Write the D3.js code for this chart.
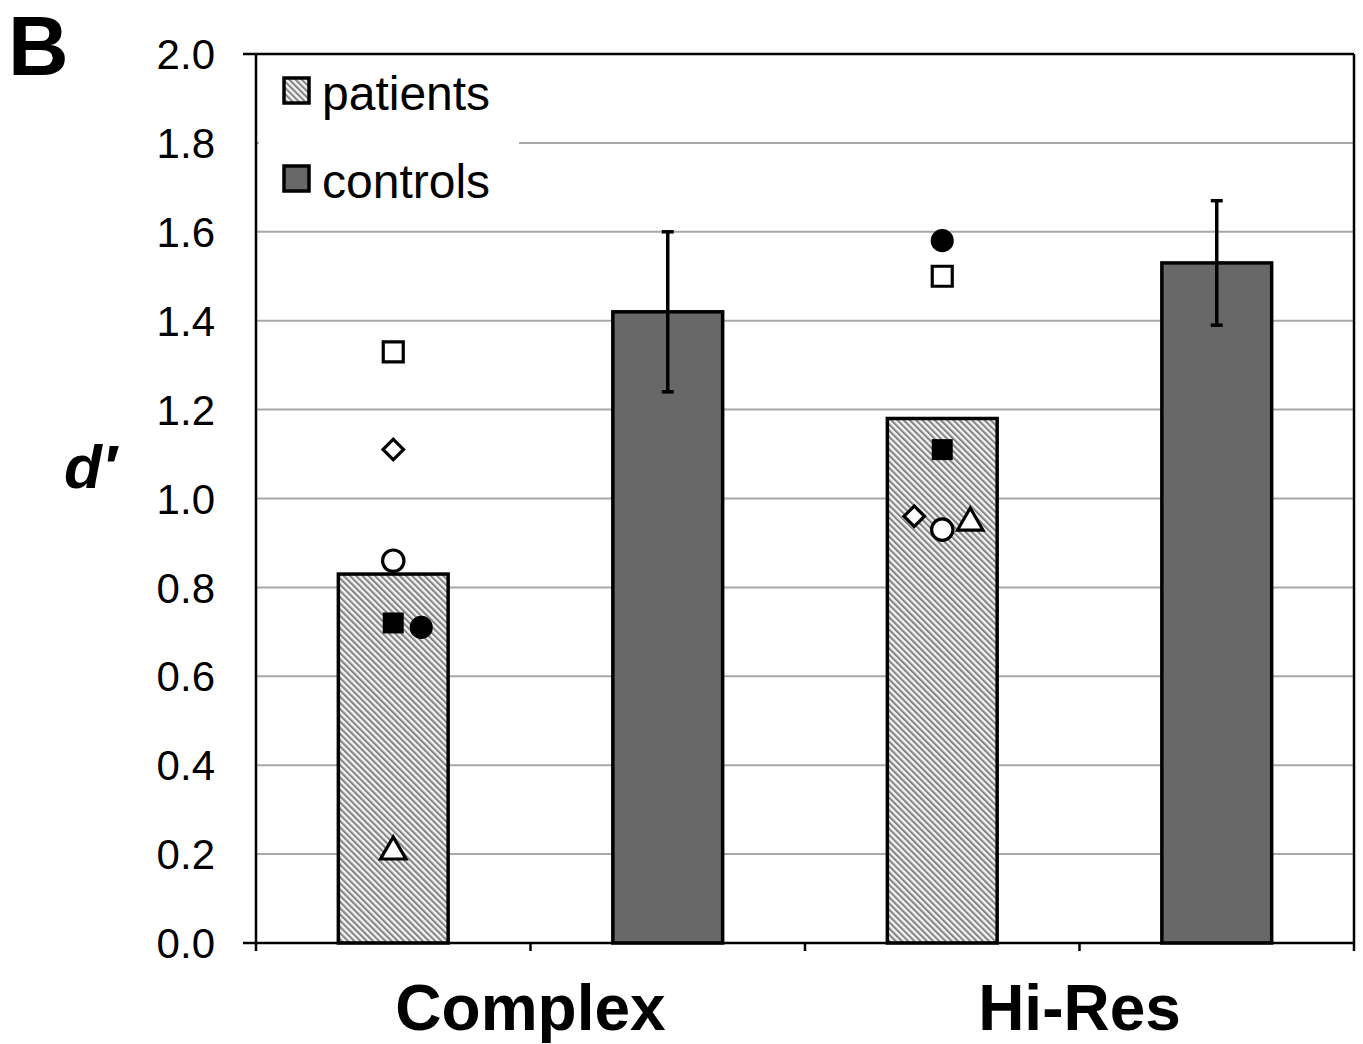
<!DOCTYPE html>
<html>
<head>
<meta charset="utf-8">
<script src="https://cdn.jsdelivr.net/npm/d3@7"></script>
<style>
  body { margin: 0; background: #fff; }
  svg { display: block; font-family: "Liberation Sans", Arial, sans-serif; }
</style>
</head>
<body>
<svg id="chart"></svg>
<script>
// data
const groups = ['Complex', 'Hi-Res'];
const series = ['patients', 'controls'];
const barMeans = [0.83, 1.42, 1.18, 1.53];          // patients/controls for each group
const errLow = [null, 1.24, null, 1.39];
const errHigh = [null, 1.60, null, 1.67];
const yTicks = [0, 0.2, 0.4, 0.6, 0.8, 1.0, 1.2, 1.4, 1.6, 1.8, 2.0];

// individual patients: shape, group, value, slot (-1,0,1 side by side)
const ptShape = ['square', 'diamond', 'circle', 'squareFill', 'circleFill', 'triangle'];
const ptComplex = [1.33, 1.11, 0.86, 0.72, 0.71, 0.21];
const ptHiRes = [1.50, 0.96, 0.93, 1.11, 1.58, 0.95];
const slotComplex = [0, 0, 0, 0, 1, 0];
const slotHiRes = [0, -1, 0, 0, 0, 1];

const W = 1363, H = 1044;
const margin = {top: 54, right: 9, bottom: 101, left: 256};
const iw = W - margin.left - margin.right;
const ih = H - margin.top - margin.bottom;

const svg = d3.select('#chart').attr('width', W).attr('height', H);

const defs = svg.append('defs');
const pat = defs.append('pattern')
  .attr('id', 'hatch')
  .attr('patternUnits', 'userSpaceOnUse')
  .attr('width', 4.4).attr('height', 4.4)
  .attr('patternTransform', 'rotate(-45)');
pat.append('rect').attr('width', 4.4).attr('height', 4.4).attr('fill', '#f4f4f4');
pat.append('rect').attr('width', 2.1).attr('height', 4.4).attr('fill', '#858585');

const g = svg.append('g').attr('transform', `translate(${margin.left},${margin.top})`);

const cats = [];
groups.forEach(gr => series.forEach(s => cats.push(gr + '|' + s)));

const x = d3.scaleBand().domain(cats).range([0, iw]).paddingInner(0).paddingOuter(0);
const y = d3.scaleLinear().domain([0, 2]).range([ih, 0]);
const barW = x.bandwidth() * 0.4;

// grid
g.append('g').selectAll('line')
  .data(yTicks.slice(1, -1))
  .join('line')
  .attr('x1', 0).attr('x2', iw)
  .attr('y1', d => y(d)).attr('y2', d => y(d))
  .attr('stroke', '#a8a8a8').attr('stroke-width', 2);

// y axis labels
g.append('g').selectAll('text')
  .data(yTicks)
  .join('text')
  .attr('x', -41).attr('y', d => y(d))
  .attr('dy', '0.36em')
  .attr('text-anchor', 'end')
  .attr('font-size', 42)
  .text(d => d.toFixed(1));

// bars
const bars = cats.map((c, i) => ({c, v: barMeans[i], lo: errLow[i], hi: errHigh[i], s: c.split('|')[1]}));
g.append('g').selectAll('rect')
  .data(bars)
  .join('rect')
  .attr('x', d => x(d.c) + (x.bandwidth() - barW) / 2)
  .attr('y', d => y(d.v))
  .attr('width', barW)
  .attr('height', d => ih - y(d.v))
  .attr('fill', d => d.s === 'patients' ? 'url(#hatch)' : '#686868')
  .attr('stroke', '#000').attr('stroke-width', 3.5);

// error bars
const eb = g.append('g').selectAll('g')
  .data(bars.filter(d => d.lo != null))
  .join('g')
  .attr('stroke', '#000').attr('stroke-width', 3.5);
eb.append('line')
  .attr('x1', d => x(d.c) + x.bandwidth() / 2).attr('x2', d => x(d.c) + x.bandwidth() / 2)
  .attr('y1', d => y(d.lo)).attr('y2', d => y(d.hi));
eb.append('line')
  .attr('x1', d => x(d.c) + x.bandwidth() / 2 - 6).attr('x2', d => x(d.c) + x.bandwidth() / 2 + 6)
  .attr('y1', d => y(d.hi)).attr('y2', d => y(d.hi));
eb.append('line')
  .attr('x1', d => x(d.c) + x.bandwidth() / 2 - 6).attr('x2', d => x(d.c) + x.bandwidth() / 2 + 6)
  .attr('y1', d => y(d.lo)).attr('y2', d => y(d.lo));

// patient points
const pts = [];
ptShape.forEach((sh, i) => {
  pts.push({sh, c: 'Complex|patients', v: ptComplex[i], slot: slotComplex[i]});
  pts.push({sh, c: 'Hi-Res|patients', v: ptHiRes[i], slot: slotHiRes[i]});
});
const symType = {
  square: d3.symbolSquare, squareFill: d3.symbolSquare,
  circle: d3.symbolCircle, circleFill: d3.symbolCircle,
  diamond: d3.symbolSquare, triangle: d3.symbolTriangle
};
const symSize = {square: 400, squareFill: 440, circle: 360, circleFill: 420, diamond: 210, triangle: 280};
g.append('g').selectAll('path')
  .data(pts)
  .join('path')
  .attr('d', d => d3.symbol(symType[d.sh], symSize[d.sh])())
  .attr('transform', d => {
    const cx = x(d.c) + x.bandwidth() / 2 + d.slot * 28;
    let cy = y(d.v);
    if (d.sh === 'triangle') cy += 2;
    return `translate(${cx},${cy})` + (d.sh === 'diamond' ? ' rotate(45)' : '');
  })
  .attr('fill', d => d.sh.endsWith('Fill') ? '#000' : '#fff')
  .attr('stroke', '#000')
  .attr('stroke-width', d => d.sh.endsWith('Fill') ? 0 : 3.2)
  .attr('stroke-linejoin', 'miter');

// frame: top and right border, baseline, y axis
g.append('line').attr('x1', -13).attr('x2', iw).attr('y1', 0).attr('y2', 0).attr('stroke', '#000').attr('stroke-width', 2.5);
g.append('line').attr('x1', iw).attr('x2', iw).attr('y1', 0).attr('y2', ih + 8).attr('stroke', '#000').attr('stroke-width', 2.5);
g.append('line').attr('x1', -13).attr('x2', iw).attr('y1', ih).attr('y2', ih).attr('stroke', '#000').attr('stroke-width', 2.5);
g.append('line').attr('x1', 0).attr('x2', 0).attr('y1', 0).attr('y2', ih + 8).attr('stroke', '#000').attr('stroke-width', 2.5);

// x ticks between bars
g.append('g').selectAll('line')
  .data(cats.slice(1))
  .join('line')
  .attr('x1', d => x(d)).attr('x2', d => x(d))
  .attr('y1', ih).attr('y2', ih + 8)
  .attr('stroke', '#000').attr('stroke-width', 2.5);

// group labels
g.append('g').selectAll('text')
  .data(groups)
  .join('text')
  .attr('x', d => x(d + '|controls'))
  .attr('y', ih + 87)
  .attr('text-anchor', 'middle')
  .attr('font-size', 64).attr('font-weight', 'bold')
  .text(d => d);

// legend
const leg = g.append('g');
leg.append('rect').attr('x', 3).attr('y', 5).attr('width', 260).attr('height', 150).attr('fill', '#fff');
const li = leg.selectAll('g.item')
  .data(series)
  .join('g')
  .attr('class', 'item')
  .attr('transform', (d, i) => `translate(0, ${i * 88})`);
li.append('rect')
  .attr('x', 28).attr('y', 24).attr('width', 25).attr('height', 25)
  .attr('fill', d => d === 'patients' ? 'url(#hatch)' : '#686868')
  .attr('stroke', '#000').attr('stroke-width', 3.5);
li.append('text')
  .attr('x', 66).attr('y', 56)
  .attr('font-size', 48)
  .text(d => d);

// axis title and panel letter
svg.append('text')
  .attr('x', 64).attr('y', 488)
  .attr('font-size', 62).attr('font-weight', 'bold').attr('font-style', 'italic')
  .text("d′");
svg.append('text')
  .attr('x', 8).attr('y', 75)
  .attr('font-size', 84).attr('font-weight', 'bold')
  .text('B');
</script>
</body>
</html>
